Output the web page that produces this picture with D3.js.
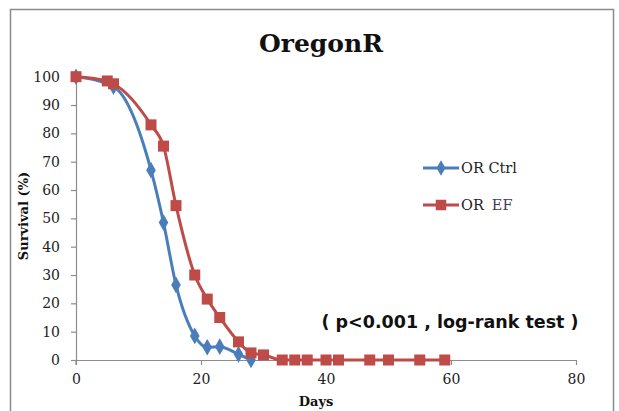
<!DOCTYPE html>
<html>
<head>
<meta charset="utf-8">
<script src="https://cdn.jsdelivr.net/npm/d3@7"></script>
<style>
html,body{margin:0;padding:0;background:#fff;}
svg{display:block;}
</style>
</head>
<body>
<script>
const ctrlDays = [0, 6, 12, 14, 16, 19, 21, 23, 26, 28];
const ctrlSurvival = [100, 96.5, 67, 48.5, 26.5, 8.5, 4.5, 4.7, 2, 0];
const efDays = [0, 5, 6, 12, 14, 16, 19, 21, 23, 26, 28, 30, 33, 35, 37, 40, 42, 47, 50, 55, 59];
const efSurvival = [100, 98.5, 97.5, 83, 75.5, 54.5, 30, 21.5, 15, 6.4, 2.5, 1.8, 0, 0, 0, 0, 0, 0, 0, 0, 0];
const xTicks = [0, 20, 40, 60, 80];
const yTicks = [0, 10, 20, 30, 40, 50, 60, 70, 80, 90, 100];
const seriesNames = ["OR Ctrl", "OR  EF"];

const W = 619, H = 411;
const svg = d3.select("body").append("svg").attr("width", W).attr("height", H);

// outer frame
svg.append("rect").attr("x", 10.5).attr("y", 9.5).attr("width", 603).attr("height", 410)
  .attr("fill", "#fff").attr("stroke", "#8a8a8a").attr("stroke-width", 1.5);

const x = d3.scaleLinear().domain([0, 80]).range([76, 576]);
const y = d3.scaleLinear().domain([0, 100]).range([360, 76.7]);

const serif = "'DejaVu Serif', serif";
const axisColor = "#8c8c8c";

// x axis
const xa = svg.append("g").attr("transform", "translate(0,360)")
  .call(d3.axisBottom(x).tickValues(xTicks).tickSize(5).tickSizeOuter(0).tickPadding(9));
// y axis
const ya = svg.append("g").attr("transform", "translate(76,0)")
  .call(d3.axisLeft(y).tickValues(yTicks).tickSize(5).tickSizeOuter(0).tickPadding(11));
[xa, ya].forEach(a => {
  a.attr("font-family", serif);
  a.selectAll("path.domain").attr("stroke", axisColor).attr("stroke-width", 1.2);
  a.selectAll(".tick line").attr("stroke", axisColor).attr("stroke-width", 1.2);
  a.selectAll(".tick text").attr("fill", "#222").style("font-family", serif).style("font-size", "14px");
});
// extend y axis a bit below x axis
svg.append("line").attr("x1", 76).attr("x2", 76).attr("y1", 360).attr("y2", 365)
  .attr("stroke", axisColor).attr("stroke-width", 1.2);

const blue = "#4a7ebb", red = "#be4b48";

const line = d3.line().x(d => x(d[0])).y(d => y(d[1])).curve(d3.curveMonotoneX);
const ctrl = ctrlDays.map((d, i) => [d, ctrlSurvival[i]]);
const ef = efDays.map((d, i) => [d, efSurvival[i]]);

function drawSeries(data, color, shape) {
  svg.append("path").datum(data).attr("d", line)
    .attr("fill", "none").attr("stroke", color).attr("stroke-width", 3).attr("stroke-linejoin", "round");
  const sym = shape === "square" ? d3.symbol().type(d3.symbolSquare).size(121)
                                 : d3.symbol().type(d3.symbolDiamond).size(80);
  svg.append("g").selectAll("path").data(data).join("path")
    .attr("d", sym)
    .attr("transform", d => `translate(${x(d[0])},${y(d[1])})`)
    .attr("fill", color);
}
drawSeries(ctrl, blue, "diamond");
drawSeries(ef, red, "square");

// title
svg.append("text").attr("x", 321).attr("y", 52).attr("text-anchor", "middle")
  .style("font-family", serif).style("font-weight", "bold").style("font-size", "25px")
  .attr("fill", "#111").text("OregonR");

// axis titles
svg.append("text").attr("x", 316).attr("y", 406).attr("text-anchor", "middle")
  .style("font-family", serif).style("font-weight", "bold").style("font-size", "13px")
  .attr("fill", "#111").text("Days");
svg.append("text").attr("transform", "translate(28,216) rotate(-90)").attr("text-anchor", "middle")
  .style("font-family", serif).style("font-weight", "bold").style("font-size", "13px")
  .attr("fill", "#111").text("Survival (%)");

// legend
const leg = [
  {name: seriesNames[0], color: blue, shape: "diamond", y: 168},
  {name: seriesNames[1], color: red, shape: "square", y: 205}
];
leg.forEach(l => {
  svg.append("line").attr("x1", 423).attr("x2", 459).attr("y1", l.y).attr("y2", l.y)
    .attr("stroke", l.color).attr("stroke-width", 3);
  const sym = l.shape === "square" ? d3.symbol().type(d3.symbolSquare).size(110)
                                   : d3.symbol().type(d3.symbolDiamond).size(70);
  svg.append("path").attr("d", sym).attr("transform", `translate(441,${l.y})`).attr("fill", l.color);
});
svg.append("text").attr("x", 461).attr("y", 173)
  .style("font-family", serif).style("font-size", "14.5px").attr("fill", "#222").text(seriesNames[0]);
const t2 = svg.append("text").attr("x", 461).attr("y", 210)
  .style("font-family", serif).style("font-size", "14.5px").attr("fill", "#222");
t2.append("tspan").text("OR");
t2.append("tspan").attr("dx", 8).attr("fill", "#3b3b5c").text("EF");

// p-value annotation
svg.append("text").attr("x", 450).attr("y", 328).attr("text-anchor", "middle")
  .style("font-family", "'DejaVu Sans', sans-serif").style("font-weight", "bold").style("font-size", "17.5px")
  .attr("fill", "#111").text("( p<0.001 , log-rank test )");
</script>
</body>
</html>
